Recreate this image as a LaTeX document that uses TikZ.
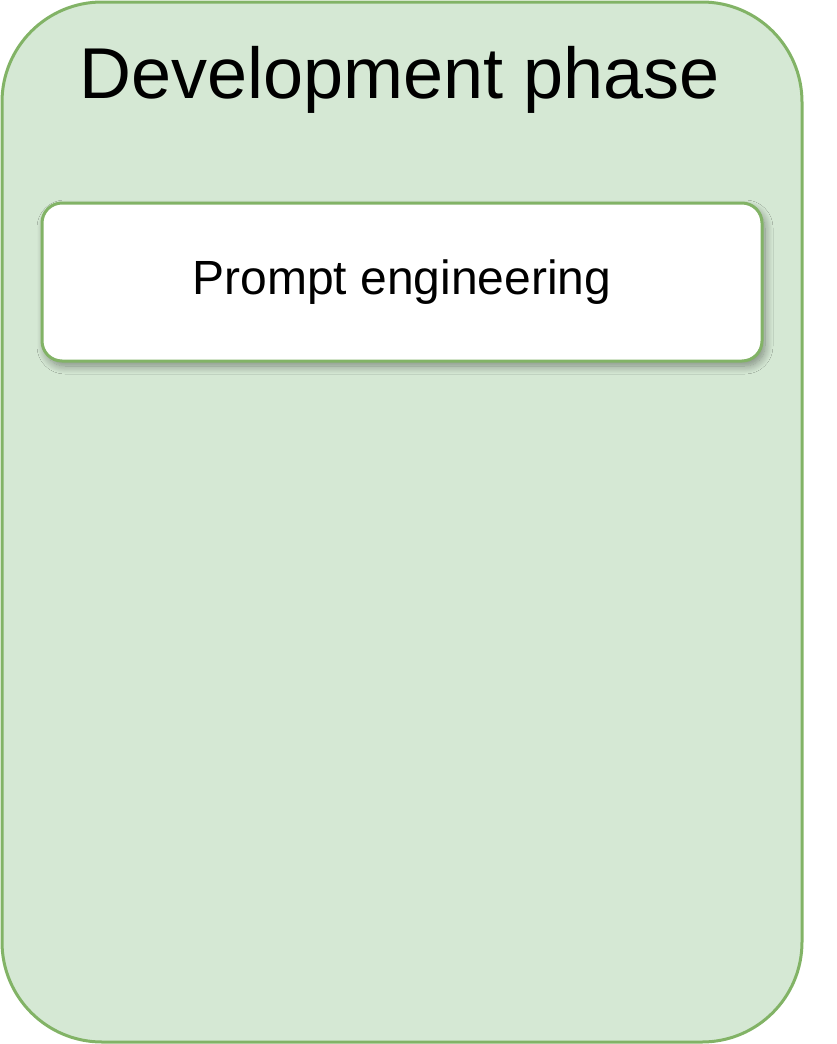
\documentclass[tikz,border=0pt]{standalone}
\usepackage{fontspec}
\setmainfont{Liberation Sans}
\usetikzlibrary{shadows.blur}
\definecolor{phasefill}{HTML}{D5E8D4}
\definecolor{phaseline}{HTML}{82B366}

\begin{document}
\begin{tikzpicture}[x=1pt, y=-1pt,
		phasebox/.style={draw=phaseline, fill=phasefill, line width=3pt, rounded corners=100pt, minimum width=800pt, minimum height=1040pt, inner sep=0pt},
		taskbox/.style={draw=phaseline, fill=white, line width=3pt, rounded corners=20pt, minimum width=720pt, minimum height=158pt, inner sep=0pt, blur shadow={shadow xshift=3pt, shadow yshift=-5pt, shadow opacity=40, shadow blur radius=8pt, shadow blur steps=12}}]
		\useasboundingbox (0,0) rectangle (836,1044);

		\node [phasebox] (phase) at (402,522) {};
		\node [anchor=base, font=\fontsize{72}{80}\selectfont] (title) at (400,98) {Development phase};

		\node [taskbox, font=\fontsize{48}{54}\selectfont] (prompt) at (402,282) {Prompt engineering};
	\end{tikzpicture}
\end{document}
